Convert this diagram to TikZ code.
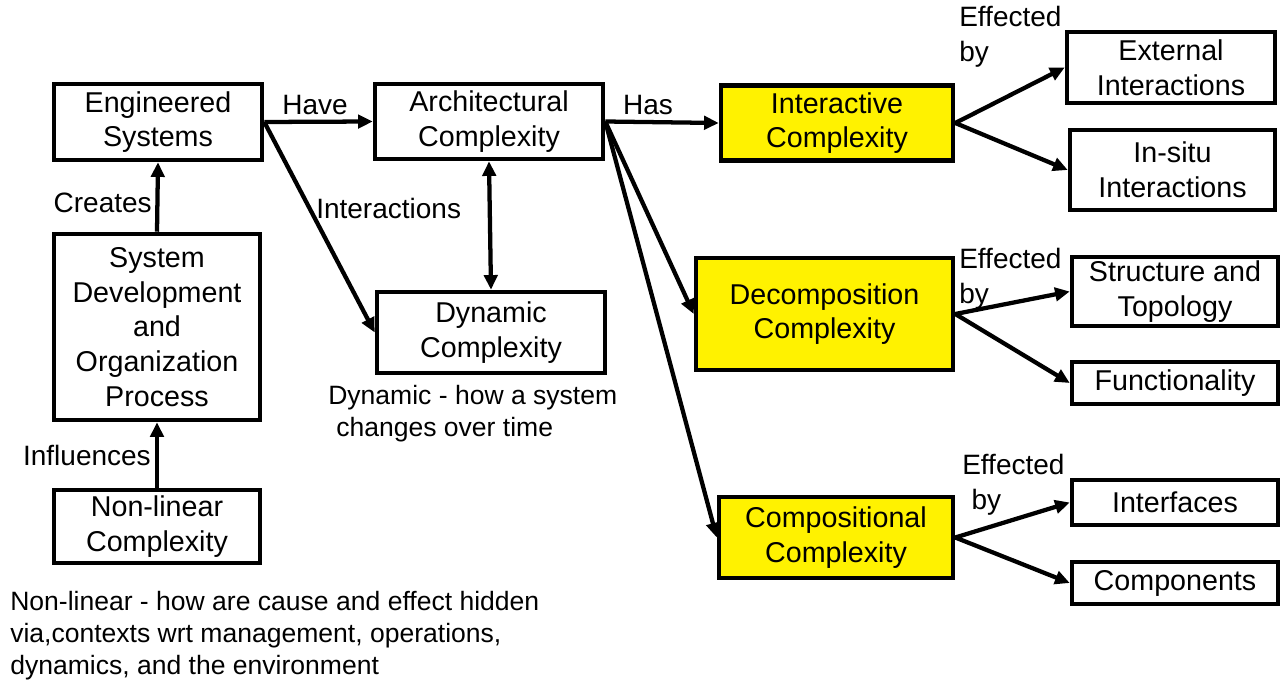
\documentclass[tikz,border=0pt]{standalone}
\usepackage{fontspec}
\setmainfont{Liberation Sans}
\usetikzlibrary{arrows.meta}
\begin{document}
\begin{tikzpicture}[x=0.75pt,y=-0.75pt,
  box/.style={draw, line width=3.4pt, align=center, inner sep=0pt,
    font=\fontsize{21.5}{26}\selectfont},
  hi/.style={box, fill=yellow},
  sz/.style 2 args={minimum width=#1*0.75pt, minimum height=#2*0.75pt},
  lbl/.style={inner sep=0pt, font=\fontsize{21}{26}\selectfont},
  note/.style={inner sep=0pt, align=left, font=\fontsize{19.9}{24}\selectfont},
  tip/.tip={Triangle[length=11pt,width=10pt]},
  link/.style={line width=3.2pt, -tip},
  twoway/.style={line width=3.2pt, tip-tip},
]
\useasboundingbox (0,0) rectangle (1284,680);

% boxes
\node[box, sz={208}{76}] (es) at (158,122) {Engineered\\Systems};
\node[box, sz={228}{75}] (ac) at (489,121.5) {Architectural\\Complexity};
\node[hi, sz={232}{75}] (ic) at (837,123) {Interactive\\Complexity};
\node[box, sz={208}{71}] (ext) at (1171,67.5) {External\\Interactions};
\node[box, sz={205}{80}] (ins) at (1172.5,170) {In-situ\\Interactions};
\node[box, sz={206}{186}] (sd) at (157,327) {System\\Development\\and\\Organization\\Process};
\node[box, sz={228}{81}] (dc) at (491,332.5) {Dynamic\\Complexity};
\node[hi, sz={257}{112}] (dec) at (824.5,314) {Decomposition\\Complexity};
\node[box, sz={206}{69}] (st) at (1175,291.5) {Structure and\\Topology};
\node[box, sz={206}{42}] (fn) at (1175,383) {Functionality};
\node[box, sz={206}{73}] (nl) at (157,526.5) {Non-linear\\Complexity};
\node[hi, sz={234}{81}] (cc) at (836,537.5) {Compositional\\Complexity};
\node[box, sz={206}{45}] (ifc) at (1175,502.5) {Interfaces};
\node[box, sz={206}{42}] (cmp) at (1175,583) {Components};

% connectors
\draw[link] (es.east) -- (ac.west);
\draw[link] (sd.north) -- (es.south);
\draw[link] (nl.north) -- (sd.south);
\draw[link] (es.east) -- (dc.west);
\draw[twoway] (ac.south) -- (dc.north);
\draw[link] (ac.east) -- (ic.west);
\draw[link] (ac.east) -- (dec.west);
\draw[link] (ac.east) -- (cc.west);
\draw[link] (ic.east) -- (ext.west);
\draw[link] (ic.east) -- (ins.west);
\draw[link] (dec.east) -- (st.west);
\draw[link] (dec.east) -- (fn.west);
\draw[link] (cc.east) -- (ifc.west);
\draw[link] (cc.east) -- (cmp.west);

% connector labels
\node[lbl] (have) at (315,105) {Have};
\node[lbl] (has) at (648,105) {Has};
\node[lbl, anchor=east] (creates) at (152,203) {Creates};
\node[lbl, anchor=west] (inter) at (316,208) {Interactions};
\node[lbl, anchor=east] (infl) at (151,455) {Influences};
\node[lbl, align=left, anchor=west] (eb1) at (959,37) {Effected\\by};
\node[lbl, align=left, anchor=west] (eb2) at (959,279) {Effected\\by};
\node[lbl, align=left, anchor=west] (eb3) at (962,485) {Effected\\\hspace*{7pt}by};

% notes
\node[note, anchor=west] (dnote) at (328,414) {Dynamic - how a system\\\hspace*{6pt}changes over time};
\node[note, anchor=west] (nnote) at (10,636) {Non-linear - how are cause and effect hidden\\via,contexts wrt management, operations,\\dynamics, and the environment};
\end{tikzpicture}
\end{document}
